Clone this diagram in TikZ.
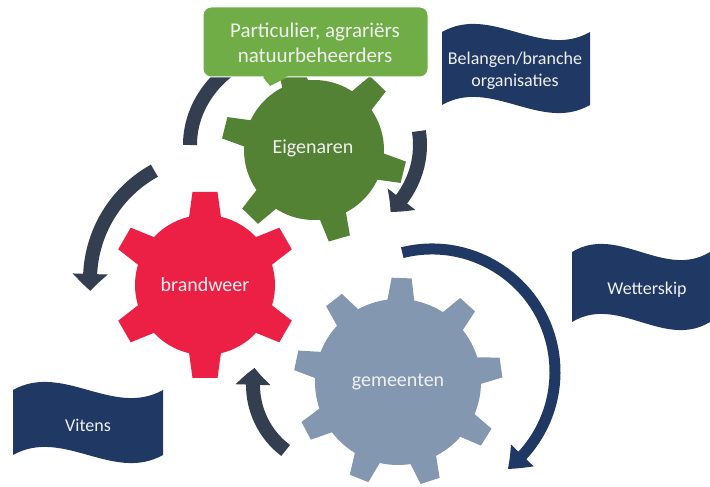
\documentclass[tikz,border=0pt]{standalone}
\usepackage{fontspec}
\setmainfont{Carlito}
\usepackage{xcolor}
\usepackage{tikz}
\usetikzlibrary{arrows.meta}
\usetikzlibrary{bending}
\usetikzlibrary{positioning}

\definecolor{eigengreen}{RGB}{84,130,53}
\definecolor{calloutgreen}{RGB}{112,173,71}
\definecolor{firered}{RGB}{236,32,68}
\definecolor{townblue}{RGB}{132,151,176}
\definecolor{flagnavy}{RGB}{31,56,100}
\definecolor{slate}{RGB}{51,63,80}
\definecolor{paletext}{RGB}{240,240,240}

\begin{document}
\begin{tikzpicture}[x=1pt,y=1pt]
\tikzset{
    gearlabel/.style = {text=paletext,font=\fontsize{20}{24}\selectfont},
    flaglabel/.style = {text=paletext,align=center,font=\fontsize{18}{22}\selectfont},
    turnarrow/.style = {draw=slate,line width=14pt,-{Triangle[width=34pt,length=17pt,bend]}},
    bigarrow/.style  = {draw=flagnavy,line width=11pt,-{Triangle[width=30pt,length=20pt,bend]}}
}
\useasboundingbox (0,0) rectangle (710,487);

\coordinate (eigc) at (314,337);
\coordinate (brac) at (205,202);
\coordinate (gemc) at (398,105);

% turning arrows
\draw[bigarrow] (432,115) ++(104:123pt) arc[start angle=104,end angle=-52,radius=123pt];
\draw[draw=slate,line width=14pt] (305,342) ++(180:115pt and 100pt) arc[start angle=180,end angle=125,x radius=115pt,y radius=100pt];
\draw[turnarrow] (305,342) ++(8:115pt and 100pt) arc[start angle=8,end angle=-42,x radius=115pt,y radius=100pt];
\draw[turnarrow] (215,207) ++(119:125pt) arc[start angle=119,end angle=185,radius=125pt];
\draw[turnarrow] (335,102) ++(233:82pt) arc[start angle=233,end angle=168,radius=82pt];

% gears
\begin{scope}[shift={(eigc)}]
\fill[eigengreen] (0,0) circle (70pt);
\foreach \a in {46,106,...,346}
    \fill[eigengreen,rotate=\a] (64,-14) -- (92,-11) -- (92,11) -- (64,14) -- cycle;
\end{scope}
\begin{scope}[shift={(brac)}]
\fill[firered] (0,0) circle (70pt);
\foreach \a in {30,90,...,330}
    \fill[firered,rotate=\a] (64,-16.5) -- (93,-12.5) -- (93,12.5) -- (64,16.5) -- cycle;
\end{scope}
\begin{scope}[shift={(gemc)}]
\fill[townblue] (0,0) circle (83pt);
\foreach \a in {8,48,...,328}
    \fill[townblue,rotate=\a] (78,-14) -- (104,-10) -- (104,10) -- (78,14) -- cycle;
\end{scope}

\node[gearlabel] (eigenaren) at (313,339) {Eigenaren};
\node[gearlabel] (brandweer) at (205,202) {brandweer};
\node[gearlabel] (gemeenten) at (398,105) {gemeenten};

% callout
\fill[calloutgreen] (262,411) -- (270,401) -- (290,411) -- cycle;
\filldraw[fill=calloutgreen,draw=white,line width=1pt,rounded corners=8pt] (203,410) rectangle (428,480);
\fill[calloutgreen] (263,411.5) -- (270,402) -- (289,411.5) -- cycle;
\node[gearlabel,align=center,font=\fontsize{21}{25}\selectfont] (owners) at (315,444) {Particulier, agrariërs\\natuurbeheerders};

% flags
\fill[flagnavy] (442,382) -- (442,455) .. controls (491,483) and (541,427) .. (590,455)
    -- (590,382) .. controls (541,354) and (491,410) .. (442,382) -- cycle;
\fill[flagnavy] (13,32) -- (13,97) .. controls (63,125) and (113,69) .. (163,97)
    -- (163,32) .. controls (113,4) and (63,60) .. (13,32) -- cycle;
\fill[flagnavy] (572,165) -- (572,235) .. controls (618,263) and (664,207) .. (710,235)
    -- (710,165) .. controls (664,137) and (618,193) .. (572,165) -- cycle;

\node[flaglabel] (belangen) at (515,416) {Belangen/branche\\organisaties};
\node[flaglabel] (vitens) at (88,62) {Vitens};
\node[flaglabel] (wetterskip) at (647,197) {Wetterskip};
\end{tikzpicture}
\end{document}
